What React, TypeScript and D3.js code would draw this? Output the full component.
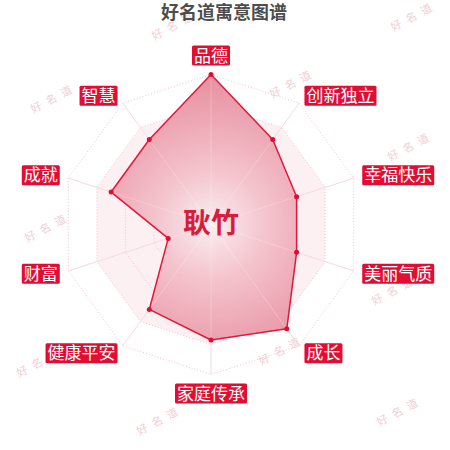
import * as d3 from "d3";
import { useEffect, useRef } from "react";

// 指标（顺时针，从正上方开始）
const indicators = ["品德", "创新独立", "幸福快乐", "美丽气质", "成长", "家庭传承", "健康平安", "财富", "成就", "智慧"];
const values = [100, 70, 60, 60, 86, 77, 70, 30, 70, 70];
const maxValue = 100;
const splitNumber = 5;

const title = "好名道寓意图谱";
const personName = "耿竹";
const watermark = "好名道";
// 水印位置
const watermarkX = [175, 414, 54, 293, 411, 48, 168, 302, 395, 40, 160, 282, 160, 400];
const watermarkY = [25, 16, 98, 83, 146, 227, 157, 210, 290, 362, 292, 350, 420, 411];

export default function App() {
  const svgRef = useRef<SVGSVGElement | null>(null);

  useEffect(() => {
    if (!svgRef.current) return;
    document.body.style.margin = "0";

    const cx = 211;
    const cy = 224.5;
    const R = 150;
    const red = "#e10d32";
    const font = "'Noto Sans CJK SC', 'Noto Sans', sans-serif";

    const svg = d3.select(svgRef.current);
    svg.selectAll("*").remove();

    const r = d3.scaleLinear().domain([0, maxValue]).range([0, R]);
    const angle = d3
      .scaleLinear()
      .domain([0, indicators.length])
      .range([0, 2 * Math.PI]);
    const pt = (i: number, rad: number): [number, number] => [
      cx + rad * Math.sin(angle(i)),
      cy - rad * Math.cos(angle(i)),
    ];

    const defs = svg.append("defs");
    const grad = defs
      .append("radialGradient")
      .attr("id", "areaGrad")
      .attr("gradientUnits", "userSpaceOnUse")
      .attr("cx", cx)
      .attr("cy", cy)
      .attr("r", R);
    grad.append("stop").attr("offset", "0%").attr("stop-color", "#fbeef1");
    grad.append("stop").attr("offset", "35%").attr("stop-color", "#f4c3cc");
    grad.append("stop").attr("offset", "100%").attr("stop-color", "#e6889a");

    // 水印
    svg
      .append("g")
      .selectAll("text")
      .data(watermarkX.map((x, i) => [x, watermarkY[i]]))
      .enter()
      .append("text")
      .attr("transform", (d) => `translate(${d[0]},${d[1]}) rotate(-28)`)
      .attr("text-anchor", "middle")
      .attr("dy", "0.35em")
      .attr("font-family", font)
      .attr("font-size", 11)
      .attr("letter-spacing", 6)
      .attr("fill", "#f0d0d6")
      .text(watermark);

    const g = svg.append("g");
    const line = d3.line<[number, number]>().curve(d3.curveLinearClosed);
    const ringPoints = (rad: number) => indicators.map((_, i) => pt(i, rad));

    // === 分隔区域 ===
    const ticks = d3.range(1, splitNumber + 1).map((k) => (maxValue * k) / splitNumber);
    ticks
      .slice()
      .reverse()
      .forEach((t, k) => {
        const idx = splitNumber - 1 - k;
        g.append("path")
          .attr("d", line(ringPoints(r(t))) as string)
          .attr("fill", idx % 2 === 1 ? "#fcf0f3" : "#ffffff")
          .attr("fill-opacity", idx % 2 === 1 ? 1 : 0);
      });

    // === 分隔线 ===
    g.selectAll("path.split")
      .data(ticks)
      .enter()
      .append("path")
      .attr("class", "split")
      .attr("d", (t) => line(ringPoints(r(t))) as string)
      .attr("fill", "none")
      .attr("stroke", "#efc4cd")
      .attr("stroke-width", 1)
      .attr("stroke-dasharray", "1,2");

    // === 轴线 ===
    g.selectAll("line.axis")
      .data(indicators)
      .enter()
      .append("line")
      .attr("class", "axis")
      .attr("x1", cx)
      .attr("y1", cy)
      .attr("x2", (_, i) => pt(i, R)[0])
      .attr("y2", (_, i) => pt(i, R)[1])
      .attr("stroke", "#f3d2d9")
      .attr("stroke-width", 1);

    // === 数据区域 ===
    const dataPts = values.map((v, i) => pt(i, r(v)));
    g.append("path")
      .attr("d", line(dataPts) as string)
      .attr("fill", "url(#areaGrad)")
      .attr("fill-opacity", 0.95)
      .attr("stroke", "#e3173c")
      .attr("stroke-width", 1.5)
      .attr("stroke-linejoin", "round");

    // 轴线穿过区域（淡）
    g.selectAll("line.axisOver")
      .data(indicators)
      .enter()
      .append("line")
      .attr("class", "axisOver")
      .attr("x1", cx)
      .attr("y1", cy)
      .attr("x2", (_, i) => pt(i, R)[0])
      .attr("y2", (_, i) => pt(i, R)[1])
      .attr("stroke", "#ffffff")
      .attr("stroke-opacity", 0.25)
      .attr("stroke-width", 1);

    g.selectAll("circle")
      .data(dataPts)
      .enter()
      .append("circle")
      .attr("cx", (d) => d[0])
      .attr("cy", (d) => d[1])
      .attr("r", 2.5)
      .attr("fill", red);

    // === 指标名称 ===
    const labelR = R + 9;
    const fs = 17;
    indicators.forEach((name, i) => {
      const [x, y] = pt(i, labelR);
      const s = Math.sin(angle(i));
      const c = Math.cos(angle(i));
      const w = name.length * fs + 4;
      const h = 20;
      let bx = x - w / 2;
      if (s > 0.01) bx = x;
      else if (s < -0.01) bx = x - w;
      let by = y - h / 2;
      if (Math.abs(s) < 0.01) by = c > 0 ? y - h : y;
      const lg = g.append("g");
      lg.append("rect")
        .attr("x", bx)
        .attr("y", by)
        .attr("width", w)
        .attr("height", h)
        .attr("rx", 1.5)
        .attr("fill", red);
      lg.append("text")
        .attr("x", bx + w / 2)
        .attr("y", by + h / 2)
        .attr("dy", "0.36em")
        .attr("text-anchor", "middle")
        .attr("font-family", font)
        .attr("font-size", fs)
        .attr("fill", "#ffffff")
        .text(name);
    });

    // === 名字 ===
    svg
      .append("text")
      .attr("x", cx)
      .attr("y", cy - 2)
      .attr("dy", "0.36em")
      .attr("text-anchor", "middle")
      .attr("font-family", font)
      .attr("font-weight", "bold")
      .attr("font-size", 28)
      .attr("fill", "#d81c3c")
      .text(personName);

    // === 标题 ===
    svg
      .append("text")
      .attr("x", 224)
      .attr("y", 13)
      .attr("dy", "0.36em")
      .attr("text-anchor", "middle")
      .attr("font-family", font)
      .attr("font-weight", "bold")
      .attr("font-size", 18)
      .attr("fill", "#4d4d4d")
      .text(title);
  }, []);

  return (
    <div style={{ position: "absolute", left: 0, top: 0, width: 450, height: 450, background: "#fff" }}>
      <svg ref={svgRef} width={450} height={450} viewBox="0 0 450 450" />
    </div>
  );
}
